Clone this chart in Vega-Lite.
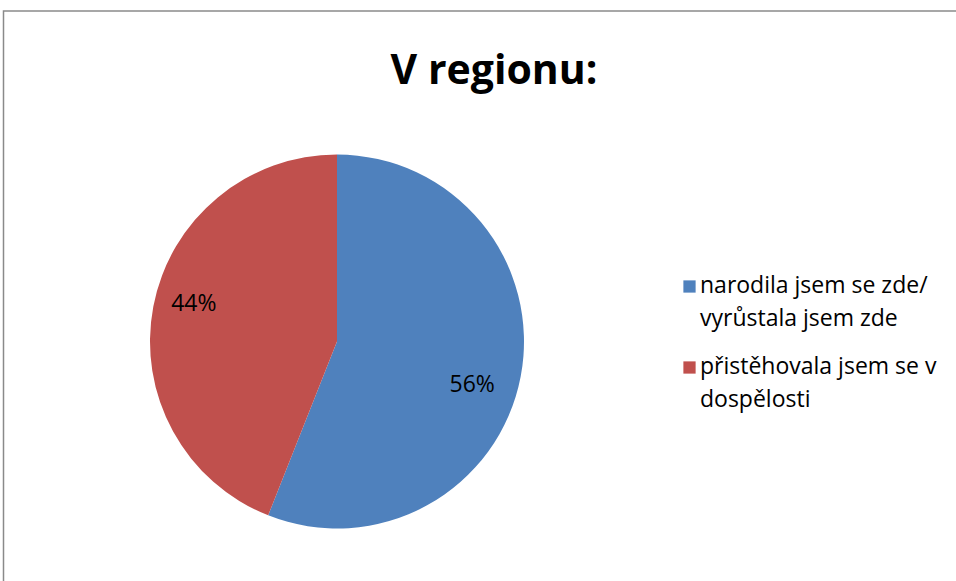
{
  "$schema": "https://vega.github.io/schema/vega-lite/v6.json",
  "autosize": "none",
  "width": 957,
  "height": 575,
  "padding": {"left": 3.5, "top": 11, "right": -4.5, "bottom": -5},
  "background": "white",
  "config": {
    "view": {"stroke": "#8a8a8a", "strokeWidth": 1.5},
    "font": "Open Sans"
  },
  "title": {
    "text": "V regionu:",
    "font": "Open Sans",
    "fontSize": 41,
    "fontWeight": "bold",
    "color": "#000000",
    "anchor": "middle",
    "frame": "group",
    "baseline": "alphabetic",
    "offset": 0,
    "dx": 12,
    "dy": 114
  },
  "data": {
    "values": [
      {"kategorie": "narodila jsem se zde/ vyrůstala jsem zde", "podil": 56, "popisek": "56%", "poradi": 1},
      {"kategorie": "přistěhovala jsem se v dospělosti", "podil": 44, "popisek": "44%", "poradi": 2}
    ]
  },
  "encoding": {
    "theta": {"field": "podil", "type": "quantitative", "stack": true},
    "order": {"field": "poradi", "type": "ordinal"},
    "x": {"value": 333.5},
    "y": {"value": 330.5}
  },
  "layer": [
    {
      "mark": {"type": "arc", "radius": 187},
      "encoding": {
        "color": {
          "field": "kategorie",
          "type": "nominal",
          "sort": ["narodila jsem se zde/ vyrůstala jsem zde", "přistěhovala jsem se v dospělosti"],
          "scale": {"range": ["#4F81BD", "#C0504D"]},
          "legend": {
            "orient": "none",
            "legendX": 674.5,
            "legendY": 264,
            "padding": 0,
            "title": null,
            "symbolType": "square",
            "symbolSize": 150,
            "symbolStrokeWidth": 0,
            "symbolOpacity": 1,
            "labelFont": "Open Sans",
            "labelFontSize": 23,
            "labelColor": "#000000",
            "labelLimit": 400,
            "labelOffset": -1,
            "labelBaseline": "middle",
            "rowPadding": 25,
            "labelExpr": "datum.label == 'narodila jsem se zde/ vyrůstala jsem zde' ? ['narodila jsem se zde/', 'vyrůstala jsem zde'] : ['přistěhovala jsem se v', 'dospělosti']",
            "encode": {
              "labels": {"update": {"lineHeight": {"value": 33}, "dy": {"value": -0.5}}}
            }
          }
        }
      }
    },
    {
      "mark": {"type": "text", "radius": 145, "thetaOffset": 0.096, "dx": -4, "dy": 3, "font": "Open Sans", "fontSize": 23, "color": "#000000"},
      "encoding": {
        "text": {"field": "popisek", "type": "nominal"}
      }
    }
  ]
}
